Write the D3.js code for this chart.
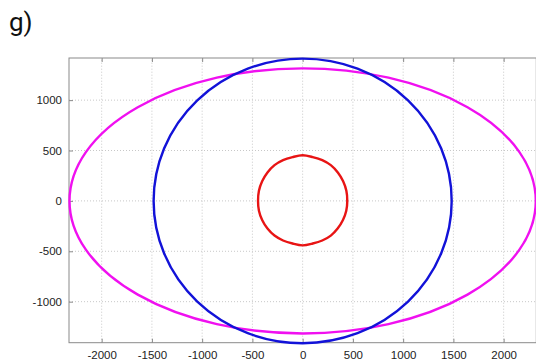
<!DOCTYPE html>
<html>
<head>
<meta charset="utf-8">
<script src="https://cdn.jsdelivr.net/npm/d3@7"></script>
<style>
  body { margin: 0; background: #fff; }
  svg { display: block; }
</style>
</head>
<body>
<div id="chart"></div>
<script>
// ticks
var xTicks = [-2000, -1500, -1000, -500, 0, 500, 1000, 1500, 2000];
var yTicks = [-1000, -500, 0, 500, 1000];

// ellipses: semi axes (data units), centred on 0,0
var ellipseNames = ["magenta", "blue"];
var ellipseRx = [2320, 1483];
var ellipseRy = [1315, 1412];
var ellipseColors = ["#f010f0", "#1212d8"];

// red closed curve (counter clockwise from +x)
var redX = [444, 435, 403, 350, 280, 195, 100, 0, -100, -195, -280, -350, -403, -435,
            -444, -435, -403, -350, -280, -195, -100, 0, 100, 195, 280, 348, 401, 434];
var redY = [0, 100, 195, 282, 355, 405, 435, 453, 435, 405, 355, 282, 195, 100,
            0, -97, -189, -274, -344, -393, -423, -441, -423, -393, -344, -274, -189, -97];

var width = 536, height = 363;
var margin = {top: 58, right: 0, bottom: 20, left: 69};

var svg = d3.select("#chart").append("svg")
  .attr("width", width)
  .attr("height", height);

svg.append("text")
  .attr("x", 9)
  .attr("y", 31)
  .style("font-family", "Roboto, 'Liberation Sans', sans-serif")
  .style("font-size", "26px")
  .style("fill", "#111")
  .text("g)");

var x = d3.scaleLinear().domain([-2325, 2325]).range([margin.left, 536.3]);
var y = d3.scaleLinear().domain([-1407, 1418]).range([342.7, margin.top]);

// grid
var grid = svg.append("g").attr("class", "grid");
grid.selectAll("line.gx").data(xTicks).enter().append("line")
  .attr("x1", function(d) { return x(d); })
  .attr("x2", function(d) { return x(d); })
  .attr("y1", y.range()[0])
  .attr("y2", y.range()[1])
  .attr("stroke", "#c8c8c8")
  .attr("stroke-width", 1)
  .attr("stroke-dasharray", "1,2");
grid.selectAll("line.gy").data(yTicks).enter().append("line")
  .attr("y1", function(d) { return y(d); })
  .attr("y2", function(d) { return y(d); })
  .attr("x1", x.range()[0])
  .attr("x2", x.range()[1])
  .attr("stroke", "#c8c8c8")
  .attr("stroke-width", 1)
  .attr("stroke-dasharray", "1,2");

// frame
svg.append("rect")
  .attr("x", x.range()[0])
  .attr("y", y.range()[1])
  .attr("width", x.range()[1] - x.range()[0])
  .attr("height", y.range()[0] - y.range()[1])
  .attr("fill", "none")
  .attr("stroke", "#8a8a8a")
  .attr("stroke-width", 1);

// axes, ticks pointing inward like matlab
var fmt = d3.format("d");
var xAxis = d3.axisBottom(x).tickValues(xTicks).tickSizeInner(-4).tickSizeOuter(0).tickPadding(8).tickFormat(fmt);
var yAxis = d3.axisLeft(y).tickValues(yTicks).tickSizeInner(-4).tickSizeOuter(0).tickPadding(7).tickFormat(fmt);

var gx = svg.append("g")
  .attr("transform", "translate(0," + y.range()[0] + ")")
  .call(xAxis);
var gy = svg.append("g")
  .attr("transform", "translate(" + x.range()[0] + ",0)")
  .call(yAxis);
[gx, gy].forEach(function(g) {
  g.select(".domain").remove();
  g.selectAll(".tick line").attr("stroke", "#8a8a8a");
  g.selectAll(".tick text")
    .text(function(d) { return String(d); })   // plain hyphen minus
    .attr("fill", "#222")
    .style("font-family", "'Liberation Sans', Arial, sans-serif")
    .style("font-size", "11.5px");
});
// top ticks
svg.append("g")
  .attr("transform", "translate(0," + y.range()[1] + ")")
  .call(d3.axisTop(x).tickValues(xTicks).tickSizeInner(-4).tickSizeOuter(0).tickFormat(""))
  .call(function(g) { g.select(".domain").remove(); g.selectAll(".tick line").attr("stroke", "#8a8a8a"); });

// curves
var plot = svg.append("g");
plot.selectAll("ellipse").data(ellipseNames).enter().append("ellipse")
  .attr("cx", x(0))
  .attr("cy", y(0))
  .attr("rx", function(d, i) { return x(ellipseRx[i]) - x(0); })
  .attr("ry", function(d, i) { return y(0) - y(ellipseRy[i]); })
  .attr("fill", "none")
  .attr("stroke", function(d, i) { return ellipseColors[i]; })
  .attr("stroke-width", 2.4);

var redPts = redX.map(function(v, i) { return [v, redY[i]]; });
var line = d3.line()
  .x(function(d) { return x(d[0]); })
  .y(function(d) { return y(d[1]); })
  .curve(d3.curveCatmullRomClosed.alpha(0.5));
plot.append("path")
  .datum(redPts)
  .attr("d", line)
  .attr("fill", "none")
  .attr("stroke", "#e81414")
  .attr("stroke-width", 2.4);
</script>
</body>
</html>
